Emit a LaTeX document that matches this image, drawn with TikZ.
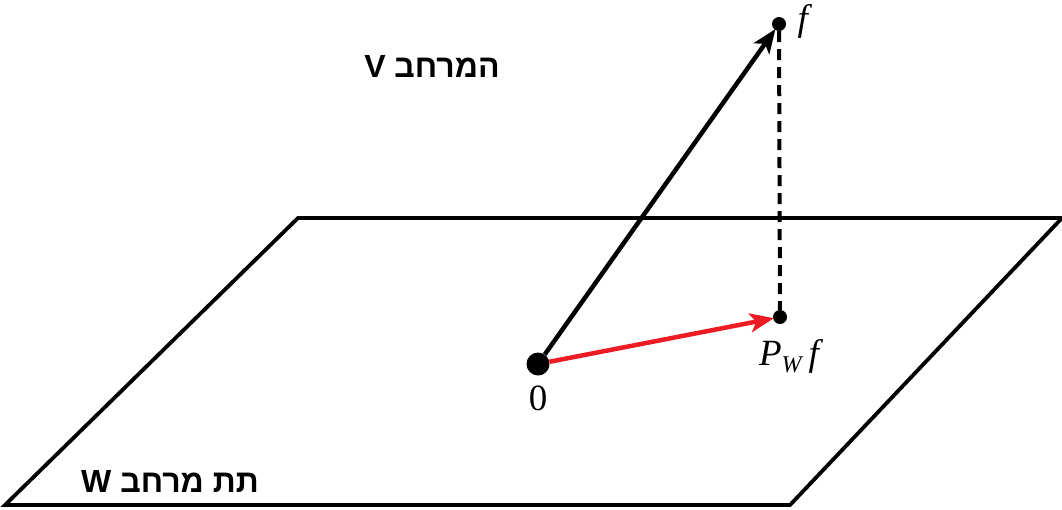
\documentclass[tikz,border=0pt]{standalone}
\usepackage{fontspec}
\usepackage{tikz}
\usetikzlibrary{arrows.meta,positioning,calc}
\TeXXeTstate=1
\newfontfamily\hebfont[Script=Hebrew]{Liberation Sans}
\newfontfamily\serif{Liberation Serif}
\definecolor{projred}{RGB}{237,28,36}
\begin{document}
\begin{tikzpicture}[x=1pt,y=-1pt,
  dot/.style={circle, fill=black, inner sep=0pt, minimum size=#1},
  vec/.style={line width=4.5pt, -{Stealth[length=24pt,width=19pt,inset=6pt]}, shorten >=-1pt},
  heb/.style={font=\hebfont\bfseries\fontsize{32}{36}\selectfont},
  lbl/.style={font=\serif\fontsize{37}{42}\selectfont}]
\useasboundingbox (0,0) rectangle (1062,509);
\draw[line width=3.8pt, line join=miter] (298,218) -- (1062,218) -- (790,505) -- (5,505) -- cycle;
\node[dot=23pt] (o) at (538,364) {};
\node[dot=14pt] (f) at (779,24) {};
\node[dot=14pt] (pwf) at (780,317) {};
\draw[line width=4pt, dashed, dash pattern=on 11pt off 7pt] (f) -- (pwf);
\draw[vec] (o) -- (f);
\draw[vec, projred] (o) -- (pwf);
\node[lbl] (zero) at (538,398) {0};
\node[lbl, right=8pt of f, yshift=3pt] (flbl) {\itshape f};
\node[lbl] (pwflbl) at (789,356) {\itshape P\raisebox{-0.45ex}{\fontsize{24}{26}\selectfont W}\kern7pt f};
\node[heb] (vspace) at (432,66) {\beginR המרחב V\endR};
\node[heb] (wspace) at (170,481) {\beginR תת מרחב W\endR};
\end{tikzpicture}
\end{document}
